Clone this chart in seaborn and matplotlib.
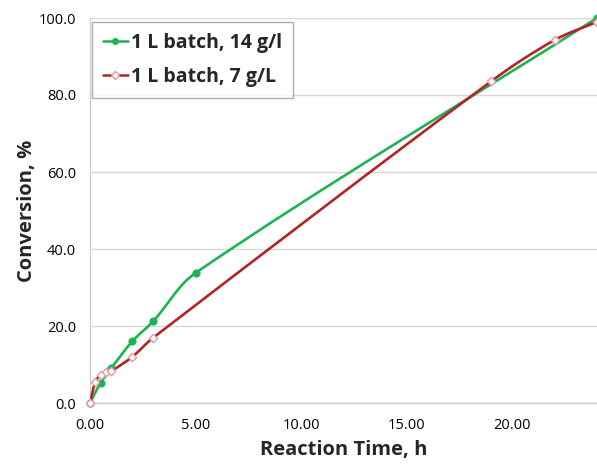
import numpy as np
import pandas as pd
import seaborn as sns
import matplotlib
matplotlib.use("Agg")
import matplotlib.pyplot as plt
from matplotlib.path import Path
from matplotlib.patches import PathPatch
from matplotlib.lines import Line2D

# ---- data ----
time_14 = [0.0, 0.5, 1.0, 2.0, 3.0, 5.0, 24.0]
conv_14 = [0.0, 5.2, 9.0, 16.0, 21.3, 33.8, 100.0]
time_7 = [0.0, 0.25, 0.5, 0.75, 1.0, 2.0, 3.0, 19.0, 22.0, 24.0]
conv_7 = [0.0, 5.4, 7.4, 8.0, 8.3, 12.0, 17.0, 83.6, 94.3, 99.0]
label_14 = "1 L batch, 14 g/l"
label_7 = "1 L batch, 7 g/L"
x_ticks = [0, 5, 10, 15, 20]
y_ticks = [0, 20, 40, 60, 80, 100]
x_label = "Reaction Time, h"
y_label = "Conversion, %"

green = "#1fb254"
red = "#b22428"
red_marker_edge = "#e39aa0"

sns.set_theme(style="white")
plt.rcParams["font.family"] = ["Open Sans", "DejaVu Sans"]

fig = plt.figure(figsize=(5.97, 4.65), dpi=100)
ax = fig.add_axes([90 / 597, (465 - 403) / 465, (597 - 90) / 597, (403 - 18) / 465])
XMAX, YMAX = 24, 100
scale = np.array([507.0 / XMAX, 385.0 / YMAX])


def smooth_path(xs, ys):
    # smooth curve through the points (cubic Bezier segments in screen-like units)
    P = np.column_stack([xs, ys]).astype(float) * scale
    n = len(P)
    tang = []
    for i in range(n):
        a = P[i - 1] if i > 0 else P[i]
        b = P[i + 1] if i < n - 1 else P[i]
        d = b - a
        tang.append(d / (np.linalg.norm(d) + 1e-12))
    verts = [P[0]]
    codes = [Path.MOVETO]
    for i in range(n - 1):
        L = np.linalg.norm(P[i + 1] - P[i]) / 3.0
        c1 = P[i] + tang[i] * L
        c2 = P[i + 1] - tang[i + 1] * L
        verts += [c1, c2, P[i + 1]]
        codes += [Path.CURVE4] * 3
    verts = np.array(verts) / scale
    return Path(verts, codes)


ax.add_patch(PathPatch(smooth_path(time_14, conv_14), fill=False, edgecolor=green, lw=1.9, zorder=3))
ax.add_patch(PathPatch(smooth_path(time_7, conv_7), fill=False, edgecolor=red, lw=1.9, zorder=3))

df14 = pd.DataFrame({"t": time_14, "c": conv_14})
df7 = pd.DataFrame({"t": time_7, "c": conv_7})
sns.scatterplot(data=df14, x="t", y="c", ax=ax, marker="o", s=28, color=green,
                edgecolor=green, linewidth=0.5, zorder=4, clip_on=False)
sns.scatterplot(data=df7, x="t", y="c", ax=ax, marker="D", s=18, color="white",
                edgecolor=red_marker_edge, linewidth=1.0, zorder=4, clip_on=False)

ax.set_xlim(0, XMAX)
ax.set_ylim(0, YMAX)
ax.set_xticks(x_ticks)
ax.set_yticks(y_ticks)
ax.set_xticklabels([f"{v:.2f}" for v in x_ticks], fontsize=10.5)
ax.set_yticklabels([f"{v:.1f}" for v in y_ticks], fontsize=10.5)
ax.yaxis.grid(True, color="#d9d9d9", lw=1.0)
ax.xaxis.grid(False)
for s in ["top", "right"]:
    ax.spines[s].set_visible(False)
for s in ["left", "bottom"]:
    ax.spines[s].set_color("#d0d0d0")
    ax.spines[s].set_linewidth(1.0)
ax.tick_params(axis="both", which="major", length=4, width=1, color="#d0d0d0",
               direction="out", labelcolor="#000000")
ax.tick_params(axis="x", pad=7)
ax.tick_params(axis="y", pad=6)
ax.set_xlabel(x_label, fontsize=14.5, fontweight="bold", labelpad=5)
ax.set_ylabel(y_label, fontsize=14.5, fontweight="bold", labelpad=1)

handles = [
    Line2D([0], [0], color=green, lw=1.8, marker="o", markersize=4,
           markerfacecolor=green, markeredgecolor=green),
    Line2D([0], [0], color=red, lw=1.8, marker="D", markersize=4,
           markerfacecolor="white", markeredgecolor=red_marker_edge),
]
leg = ax.legend(handles, [label_14, label_7], loc="upper left",
                bbox_to_anchor=(0.0, 0.995), frameon=True, fancybox=False,
                prop={"weight": "bold", "size": 14}, handlelength=1.3,
                handletextpad=0.15, borderpad=0.55, borderaxespad=0.1,
                labelspacing=0.75)
leg.get_frame().set_edgecolor("#9a9a9a")
leg.get_frame().set_linewidth(1.0)

fig.savefig("out.png", dpi=100)
